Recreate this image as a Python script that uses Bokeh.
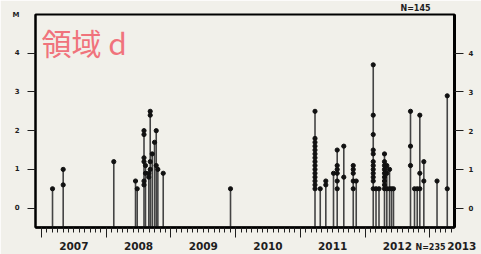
from bokeh.plotting import figure
from bokeh.models import Range1d, LinearAxis, FixedTicker, Label
from bokeh.embed import file_html
from bokeh.resources import INLINE

# ---- data (decimal year of each stem, magnitudes of the events on it) ----
stem_time = [2007.17, 2007.335, 2008.117, 2008.453, 2008.479, 2008.584, 2008.607,
             2008.658, 2008.680, 2008.711, 2008.747, 2008.773, 2008.798, 2008.881,
             2009.921, 2011.227, 2011.308, 2011.394, 2011.513, 2011.570, 2011.672,
             2011.818, 2011.864, 2012.127, 2012.170, 2012.216, 2012.301, 2012.337,
             2012.379, 2012.410, 2012.440, 2012.703, 2012.765, 2012.807, 2012.847,
             2012.909, 2013.113, 2013.271]
stem_mags = [[0.5], [1.0, 0.6], [1.2], [0.7], [0.5], [2.0, 1.9, 1.3, 1.2, 0.7, 0.6], [1.1, 0.9],
             [0.9, 0.8], [2.5, 2.4, 1.2, 1.0], [1.4], [1.7], [2.0, 1.1], [1.0], [0.9],
             [0.5], [2.5, 1.8, 1.7, 1.6, 1.5, 1.4, 1.3, 1.2, 1.1, 1.0, 0.9, 0.8, 0.7, 0.6, 0.5],
             [0.5], [0.7, 0.6], [0.9], [1.5, 1.1, 1.0, 0.9, 0.7, 0.5], [1.6, 0.8],
             [1.1, 1.0, 0.9, 0.7, 0.5], [0.7],
             [3.7, 2.4, 1.9, 1.5, 1.4, 1.2, 1.1, 1.0, 0.9, 0.8, 0.7, 0.5], [0.5], [0.5],
             [1.4, 1.2, 1.1, 1.0, 0.9, 0.8, 0.7, 0.6, 0.5], [1.1, 0.9, 0.5],
             [1.0, 0.5], [0.5], [0.5], [2.5, 1.6, 1.1], [0.5], [0.5], [2.4, 0.9, 0.5],
             [1.2, 0.7], [0.7], [2.9, 0.5]]
year_labels = ["2007", "2008", "2009", "2010", "2011", "2012", "2013"]
m_ticks = [0, 1, 2, 3, 4]
m_label = "M"
region_label = "領域 d"
n_top = "N=145"
n_bottom = "N=235"

# ---- layout ----
W, H = 481, 254
L, R, T, B = 35, 454, 13, 227
x0, x1 = 2006.907, 2013.383
y0, y1 = -0.5, 5.0
BG = "#f1f0ea"
INK = "#1e1e1e"
FONT = "DejaVu Sans"

def px2x(px):
    return x0 + (px - L) * (x1 - x0) / (R - L)

def py2y(py):
    return y1 - (py - T) * (y1 - y0) / (B - T)

p = figure(width=W, height=H, x_range=Range1d(x0, x1), y_range=Range1d(y0, y1),
           output_backend="svg", toolbar_location=None,
           min_border_left=L, min_border_right=W - R, min_border_top=T,
           min_border_bottom=H - B, background_fill_color=BG, border_fill_color=BG,
           outline_line_color="black", outline_line_width=2)
p.title.visible = False
p.xgrid.visible = False
p.ygrid.visible = False

def style_labels(ax, size):
    ax.major_label_text_font = FONT
    ax.major_label_text_font_size = size
    ax.major_label_text_font_style = "bold"
    ax.major_label_text_color = INK

def bare(ax):
    ax.axis_line_color = None
    ax.major_tick_line_color = None
    ax.minor_tick_line_color = None
    ax.major_tick_out = 0
    ax.major_tick_in = 0

# x axis 1: year boundaries (long ticks) and months (short ticks), no labels
years = [int(y) for y in year_labels]
months = [y + m / 12 for y in range(2007, 2014) for m in range(12) if y + m / 12 <= x1]
xa = p.xaxis[0]
xa.ticker = FixedTicker(ticks=[float(y) for y in years], minor_ticks=months)
xa.axis_line_color = "black"
xa.axis_line_width = 2.5
xa.major_tick_in = 0
xa.major_tick_out = 10
xa.minor_tick_in = 0
xa.minor_tick_out = 5
xa.major_tick_line_color = INK
xa.minor_tick_line_color = INK
xa.major_label_overrides = {float(y): "" for y in years}
xa.major_label_text_font_size = "1px"
xa.major_label_standoff = 0

# x axis 2: year names centred in each year (the last one sits past the frame edge)
lab_pos = [y + 0.5 for y in years[:-1]] + [x1 - 0.0005]
lab_txt = year_labels[:-1] + ["\u00a0" * 4 + year_labels[-1]]
xl = LinearAxis(ticker=FixedTicker(ticks=lab_pos, minor_ticks=[]))
xl.major_label_overrides = dict(zip(lab_pos, lab_txt))
bare(xl)
xl.major_label_standoff = 2
style_labels(xl, "10.5px")
p.add_layout(xl, "below")

# x axis 3: event count, partly cut by the bottom edge
xn = LinearAxis(ticker=FixedTicker(ticks=[px2x(430)], minor_ticks=[]))
xn.major_label_overrides = {px2x(430): n_bottom}
bare(xn)
xn.major_label_standoff = -12
style_labels(xn, "8px")
p.add_layout(xn, "below")

# left y axis: magnitude ticks plus the "M" heading
ya = p.yaxis[0]
ya.ticker = FixedTicker(ticks=m_ticks + [py2y(14)], minor_ticks=m_ticks)
ya.major_label_overrides = {py2y(14): m_label}
ya.axis_line_color = "black"
ya.axis_line_width = 2
ya.major_tick_in = 0
ya.major_tick_out = 0
ya.minor_tick_in = 0
ya.minor_tick_out = 8
ya.minor_tick_line_color = INK
ya.major_label_standoff = 8
style_labels(ya, "7px")

# right y axis
yr = LinearAxis(ticker=FixedTicker(ticks=m_ticks, minor_ticks=[]))
yr.axis_line_color = "black"
yr.axis_line_width = 3
yr.major_tick_in = 0
yr.major_tick_out = 9
yr.major_tick_line_color = INK
yr.major_label_standoff = 5
style_labels(yr, "7px")
p.add_layout(yr, "right")

# top count label
xt = LinearAxis(ticker=FixedTicker(ticks=[px2x(415)], minor_ticks=[]))
xt.major_label_overrides = {px2x(415): n_top}
bare(xt)
xt.major_label_standoff = 2
style_labels(xt, "8px")
p.add_layout(xt, "above")

# ---- stems and events ----
stem_top = [max(m) for m in stem_mags]
p.segment(x0=stem_time, y0=[y0] * len(stem_time), x1=stem_time, y1=stem_top,
          line_color="#444444", line_width=1.6)
ev_x = [t for t, ms in zip(stem_time, stem_mags) for _ in ms]
ev_y = [m for ms in stem_mags for m in ms]
p.scatter(ev_x, ev_y, size=4.2, fill_color="#111111", line_color="#111111")

p.add_layout(Label(x=px2x(41), y=py2y(41), text=region_label, text_align="left",
                   text_baseline="middle", text_font="Noto Sans CJK JP",
                   text_font_size="30px", text_color="#f0737c"))

open("out.html", "w").write(file_html(p, INLINE))
